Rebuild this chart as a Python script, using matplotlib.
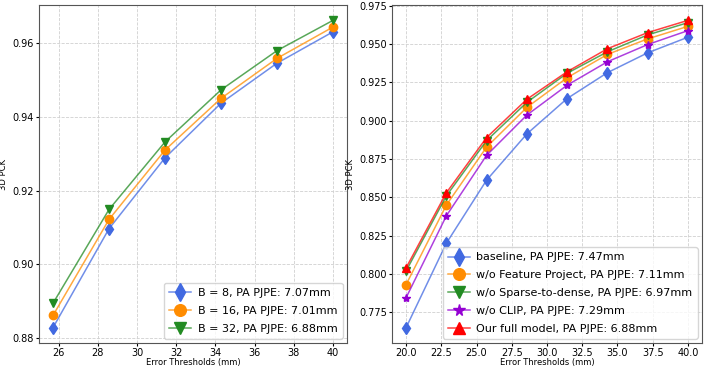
import matplotlib.pyplot as plt
from matplotlib.colors import to_rgba

# thresholds
x_all = [20.0, 22.86, 25.71, 28.57, 31.43, 34.29, 37.14, 40.0]
x_left = x_all[2:]

# left panel: batch size
b8 = [0.8829, 0.9097, 0.9289, 0.9437, 0.9545, 0.9630]
b16 = [0.8862, 0.9122, 0.9310, 0.9450, 0.9558, 0.9643]
b32 = [0.8895, 0.9149, 0.9332, 0.9473, 0.9579, 0.9661]
left_labels = ["B = 8, PA PJPE: 7.07mm", "B = 16, PA PJPE: 7.01mm", "B = 32, PA PJPE: 6.88mm"]

# right panel: ablation
baseline = [0.7650, 0.8201, 0.8612, 0.8914, 0.9145, 0.9314, 0.9443, 0.9545]
wo_feat = [0.7931, 0.8450, 0.8828, 0.9087, 0.9281, 0.9433, 0.9534, 0.9616]
wo_sparse = [0.8020, 0.8510, 0.8870, 0.9120, 0.9310, 0.9450, 0.9560, 0.9640]
wo_clip = [0.7845, 0.8380, 0.8774, 0.9037, 0.9232, 0.9385, 0.9497, 0.9588]
full = [0.8040, 0.8530, 0.8890, 0.9140, 0.9320, 0.9470, 0.9575, 0.9655]
right_labels = ["baseline, PA PJPE: 7.47mm", "w/o Feature Project, PA PJPE: 7.11mm",
                "w/o Sparse-to-dense, PA PJPE: 6.97mm", "w/o CLIP, PA PJPE: 7.29mm",
                "Our full model, PA PJPE: 6.88mm"]

colors = ["royalblue", "darkorange", "forestgreen", "darkviolet", "red"]
markers = ["d", "o", "v", "*", "^"]
sizes = [6.5, 6, 6, 6, 6]


def draw(ax, x, series, labels, idx):
    for ys, lab, i in zip(series, labels, idx):
        c = colors[i]
        ax.plot(x, ys, color=to_rgba(c, 0.75), marker=markers[i], markersize=sizes[i],
                markerfacecolor=c, markeredgecolor=c, linewidth=1.1, label=lab)
    ax.grid(True, linestyle="--", color="#d0d0d0", linewidth=0.6)
    ax.set_xlabel("Error Thresholds (mm)", fontsize=6, labelpad=0)
    ax.set_ylabel("3D PCK", fontsize=6, labelpad=3)
    ax.tick_params(labelsize=7, length=2.5, pad=1.2)
    for s in ax.spines.values():
        s.set_color("#555555")
    ax.legend(loc="lower right", fontsize=8, handlelength=2, borderpad=0.45,
              labelspacing=0.7, handletextpad=0.6, borderaxespad=0.4,
              markerscale=1.4)


fig = plt.figure(figsize=(7.06, 3.67), dpi=100)
ax1 = fig.add_axes([39 / 706, 1 - 343 / 367, 308 / 706, 338 / 367])
ax2 = fig.add_axes([392 / 706, 1 - 343 / 367, 310 / 706, 338 / 367])

draw(ax1, x_left, [b8, b16, b32], left_labels, [0, 1, 2])
ax1.set_xticks([26, 28, 30, 32, 34, 36, 38, 40])
ax1.set_yticks([0.88, 0.90, 0.92, 0.94, 0.96])

draw(ax2, x_all, [baseline, wo_feat, wo_sparse, wo_clip, full], right_labels, [0, 1, 2, 3, 4])
ax2.set_xticks([20.0, 22.5, 25.0, 27.5, 30.0, 32.5, 35.0, 37.5, 40.0])

fig.savefig("out.png", dpi=100)
